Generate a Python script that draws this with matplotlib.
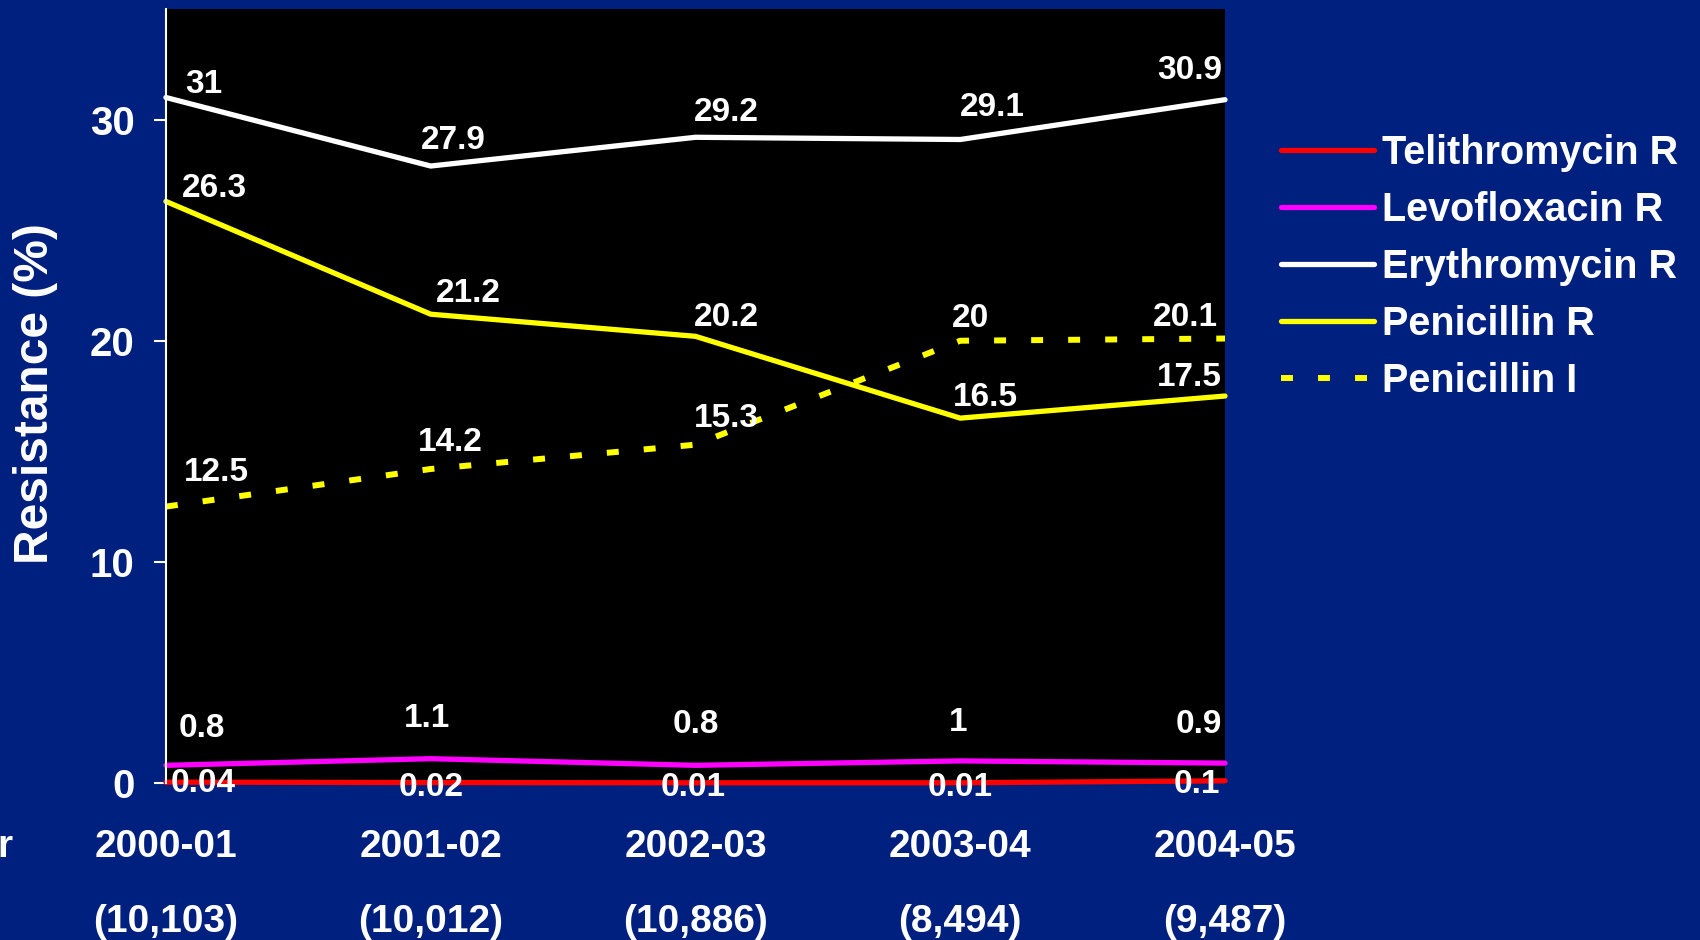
import matplotlib
matplotlib.use('Agg')

import matplotlib.pyplot as plt
import matplotlib.transforms as mtransforms

# === Data ===
years = ["2000-01", "2001-02", "2002-03", "2003-04", "2004-05"]
isolates = ["(10,103)", "(10,012)", "(10,886)", "(8,494)", "(9,487)"]

telithromycin_r = [0.04, 0.02, 0.01, 0.01, 0.1]
levofloxacin_r = [0.8, 1.1, 0.8, 1.0, 0.9]
erythromycin_r = [31, 27.9, 29.2, 29.1, 30.9]
penicillin_r = [26.3, 21.2, 20.2, 16.5, 17.5]
penicillin_i = [12.5, 14.2, 15.3, 20, 20.1]

# === Style ===
BG = "#00207f"
FONT = "Liberation Sans"
plt.rcParams['font.family'] = [FONT, 'DejaVu Sans']
plt.rcParams['font.weight'] = 'bold'

# label centre offsets from each point, in pixels (dx, dy)
label_offsets = {
    "Telithromycin R": [(37, 3), (0, -1), (-2, -1), (0, -1), (-28, 0)],
    "Levofloxacin R": [(36, 41), (-4, 44), (0, 45), (-2, 42), (-26, 43)],
    "Erythromycin R": [(38, 17), (23, 30), (31, 29), (32, 36), (-35, 33)],
    "Penicillin R": [(49, 17), (38, 25), (31, 23), (25, 25), (-36, 23)],
    "Penicillin I": [(50, 38), (20, 30), (31, 30), (10, 26), (-40, 25)],
}
LABEL_SHIFT = -4

series = [
    ("Telithromycin R", telithromycin_r, "#ff0000", "-"),
    ("Levofloxacin R", levofloxacin_r, "#ff00ff", "-"),
    ("Erythromycin R", erythromycin_r, "#ffffff", "-"),
    ("Penicillin R", penicillin_r, "#ffff00", "-"),
    ("Penicillin I", penicillin_i, "#ffff00", "--"),
]

fig = plt.figure(figsize=(17, 9.4), dpi=100, facecolor=BG)
ax = fig.add_axes([0.0976, 0.167, 0.623, 0.8234])
ax.set_facecolor("black")

x = list(range(len(years)))
handles = []
for name, vals, color, ls in series:
    if ls == "--":
        line, = ax.plot(x, vals, color=color, lw=4.3, dashes=(2, 4.2),
                        dash_capstyle='butt', clip_on=False, label=name)
    else:
        line, = ax.plot(x, vals, color=color, lw=3.8, solid_capstyle='round',
                        solid_joinstyle='round', clip_on=False, label=name)
    handles.append(line)

# value labels, drawn last so they sit on top of the lines
for name, vals, color, ls in series:
    for xi, v, (dx, dy) in zip(x, vals, label_offsets[name]):
        ax.annotate(f"{v:g}", (xi, v), xytext=(dx, dy + LABEL_SHIFT),
                    textcoords='offset pixels', ha='center', va='center',
                    color='white', fontsize=24, fontweight='bold', zorder=5)

ax.set_xlim(0, 4)
ax.set_ylim(0, 35)
ax.set_yticks([0, 10, 20, 30])
ax.set_xticks([])
ax.tick_params(axis='y', colors='white', labelcolor='white', labelsize=29,
               length=8.6, width=1.5, pad=14)
for lbl in ax.get_yticklabels():
    lbl.set_fontweight('bold')
for side in ['top', 'right', 'bottom']:
    ax.spines[side].set_visible(False)
ax.spines['left'].set_color('white')
ax.spines['left'].set_linewidth(1.5)

fig.text(36 / 1700, 1 - 394 / 940, "Resistance (%)", rotation=90, ha='center',
         va='center', color='white', fontsize=34.5, fontweight='bold')

# x labels: season and number of isolates
trans = mtransforms.blended_transform_factory(ax.transData, fig.transFigure)
for xi, yr, n in zip(x, years, isolates):
    ax.text(xi, 1 - 847 / 940, yr, transform=trans, ha='center', va='center',
            color='white', fontsize=28, fontweight='bold')
    ax.text(xi, 1 - 922 / 940, n, transform=trans, ha='center', va='center',
            color='white', fontsize=28, fontweight='bold')
fig.text(13 / 1700, 1 - 847 / 940, "r", ha='right', va='center',
         color='white', fontsize=28, fontweight='bold')

leg = fig.legend(handles=handles, loc='upper left',
                 bbox_to_anchor=(1281 / 1700, 1 - 134 / 940),
                 frameon=False, fontsize=28.5, handlelength=2.35,
                 handletextpad=0.2, labelspacing=0.48, borderpad=0,
                 borderaxespad=0)
for t in leg.get_texts():
    t.set_color('white')
    t.set_fontweight('bold')

fig.savefig("out.png", dpi=100, facecolor=BG)
